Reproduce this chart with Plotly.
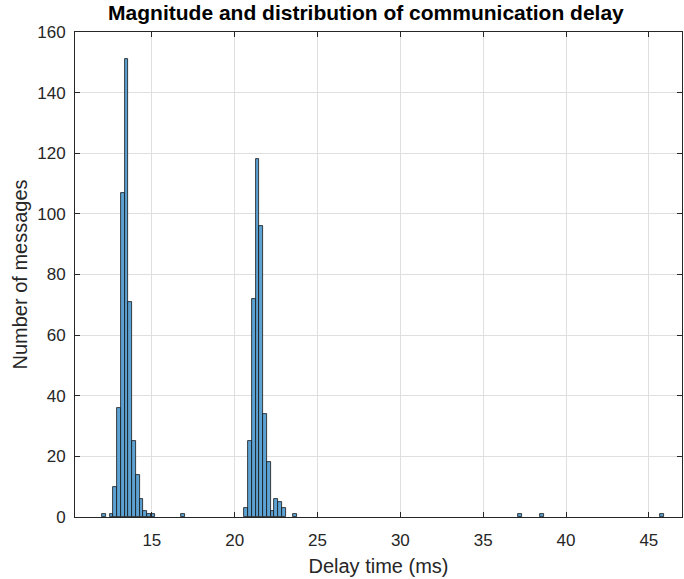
import plotly.graph_objects as go

# Histogram data (150 equal bins from 12.0 to 45.9 ms)
bin_start = 12.0
bin_width = 0.226
bin_index = [0, 2, 3, 4, 5, 6, 7, 8, 9, 10, 11, 12, 13,
             21,
             38, 39, 40, 41, 42, 43, 44, 45, 46, 47, 48, 51,
             111, 117, 149]
counts = [1, 1, 10, 36, 107, 151, 71, 25, 14, 6, 2, 1, 1,
          1,
          3, 25, 72, 118, 96, 34, 18, 2, 6, 5, 3, 1,
          1, 1, 1]

x_ticks = [15, 20, 25, 30, 35, 40, 45]
y_ticks = [0, 20, 40, 60, 80, 100, 120, 140, 160]

centers = [bin_start + (k + 0.5) * bin_width for k in bin_index]

axis_col = "rgb(38,38,38)"
grid_col = "rgb(223,223,223)"
font_family = "Liberation Sans, Arial, sans-serif"

fig = go.Figure()
fig.add_trace(go.Bar(
    x=centers, y=counts, width=[bin_width] * len(centers),
    marker=dict(color="rgb(92,163,212)", line=dict(color="rgb(20,20,20)", width=0.8)),
    showlegend=False,
))

fig.update_layout(
    width=684, height=579,
    margin=dict(l=75, r=2, t=32, b=62),
    paper_bgcolor="white", plot_bgcolor="white",
    bargap=0,
    font=dict(family=font_family, size=17, color=axis_col),
    title=dict(text="<b>Magnitude and distribution of communication delay</b>",
               x=0.535, xanchor="center", y=0.979, yanchor="middle",
               font=dict(family=font_family, size=21, color="black")),
)
fig.update_xaxes(
    range=[10.36, 47.0], tickvals=x_ticks, ticktext=[str(v) for v in x_ticks],
    showgrid=True, gridcolor=grid_col, gridwidth=1, zeroline=False,
    showline=True, linecolor=axis_col, linewidth=1, mirror="ticks",
    ticks="inside", ticklen=5, tickcolor=axis_col, ticklabelstandoff=8,
    tickfont=dict(size=17, color=axis_col),
    title=dict(text="Delay time (ms)", font=dict(size=20, color=axis_col), standoff=9),
)
fig.update_yaxes(
    range=[0, 160], tickvals=y_ticks, ticktext=[str(v) for v in y_ticks],
    showgrid=True, gridcolor=grid_col, gridwidth=1, zeroline=False,
    showline=True, linecolor=axis_col, linewidth=1, mirror="ticks",
    ticks="inside", ticklen=5, tickcolor=axis_col, ticklabelstandoff=5,
    tickfont=dict(size=17, color=axis_col),
    title=dict(text="Number of messages", font=dict(size=20, color=axis_col), standoff=4),
)

fig.write_html("out.html")
